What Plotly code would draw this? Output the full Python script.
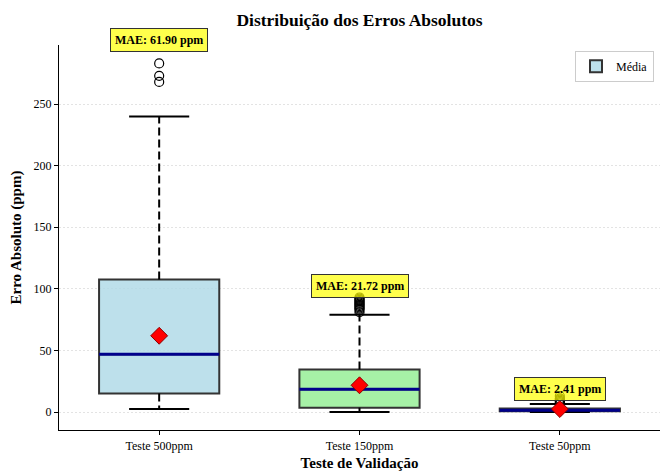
import plotly.graph_objects as go

# ---- data ----
categories = ["Teste 500ppm", "Teste 150ppm", "Teste 50ppm"]
q1_vals = [15.0, 3.5, 0.6]
median_vals = [47.0, 18.5, 1.5]
q3_vals = [107.5, 34.5, 2.8]
lower_whisker = [2.5, 0.0, 0.0]
upper_whisker = [240.0, 79.0, 6.5]
mean_vals = [61.90, 21.72, 2.41]
outliers = [
    [268.0, 273.0, 283.0],
    [81.0, 83.0, 84.0, 85.0, 86.0, 87.0, 88.0, 89.0, 90.0, 91.0, 92.0, 93.0],
    [7.0, 8.0, 9.0, 10.0, 11.0, 13.0],
]
fill_colors = ["rgba(173,216,230,0.8)", "rgba(144,238,144,0.8)", "rgba(240,128,128,0.8)"]

FONT = "Liberation Serif, Times New Roman, serif"
positions = list(range(len(categories)))
BOX_W = 0.6
CAP_HALF = 0.15
Y_RANGE = [-14.6, 298]

fig = go.Figure()

for i, p in enumerate(positions):
    fig.add_trace(go.Box(
        x=[p], q1=[q1_vals[i]], median=[median_vals[i]], q3=[q3_vals[i]],
        lowerfence=[q1_vals[i]], upperfence=[q3_vals[i]],
        width=BOX_W, whiskerwidth=0, boxpoints=False,
        fillcolor=fill_colors[i], line=dict(color="#333333", width=2),
        name="Média", showlegend=(i == 0), hoverinfo="skip",
    ))

for i, p in enumerate(positions):
    # dashed whiskers
    fig.add_trace(go.Scatter(
        x=[p, p, None, p, p],
        y=[q1_vals[i], lower_whisker[i], None, q3_vals[i], upper_whisker[i]],
        mode="lines", line=dict(color="black", width=2, dash="8px,4px"),
        showlegend=False, hoverinfo="skip",
    ))
    # caps
    fig.add_trace(go.Scatter(
        x=[p - CAP_HALF, p + CAP_HALF, None, p - CAP_HALF, p + CAP_HALF],
        y=[lower_whisker[i], lower_whisker[i], None, upper_whisker[i], upper_whisker[i]],
        mode="lines", line=dict(color="black", width=2),
        showlegend=False, hoverinfo="skip",
    ))
    # median
    fig.add_trace(go.Scatter(
        x=[p - BOX_W / 2, p + BOX_W / 2], y=[median_vals[i], median_vals[i]],
        mode="lines", line=dict(color="darkblue", width=3),
        showlegend=False, hoverinfo="skip",
    ))
    # outliers
    fig.add_trace(go.Scatter(
        x=[p] * len(outliers[i]), y=outliers[i], mode="markers",
        marker=dict(symbol="circle-open", size=9, color="black", line=dict(width=1.2)),
        showlegend=False, hoverinfo="skip",
    ))

# means
fig.add_trace(go.Scatter(
    x=positions, y=mean_vals, mode="markers",
    marker=dict(symbol="diamond", size=13, color="red", line=dict(color="darkred", width=1)),
    showlegend=False, hoverinfo="skip",
))

for i, p in enumerate(positions):
    top = max(outliers[i] + [upper_whisker[i]])
    y_val = top * 1.05 + 5
    y_paper = (y_val - Y_RANGE[0]) / (Y_RANGE[1] - Y_RANGE[0])
    fig.add_annotation(
        x=p, y=y_paper, xref="x", yref="paper", yanchor="middle",
        text=f"<b>MAE: {mean_vals[i]:.2f} ppm</b>", showarrow=False,
        font=dict(family=FONT, size=12, color="black"),
        bgcolor="rgba(255,255,0,0.7)", bordercolor="#333333", borderwidth=1, borderpad=4,
    )

fig.update_layout(
    width=662, height=471,
    margin=dict(l=59, r=2, t=45, b=41),
    paper_bgcolor="white", plot_bgcolor="white",
    font=dict(family=FONT, size=12, color="black"),
    title=dict(text="<b>Distribuição dos Erros Absolutos</b>", x=0.5, xref="paper",
               y=1 - 20 / 471, yref="container", yanchor="middle",
               font=dict(family=FONT, size=17.5, color="black")),
    legend=dict(x=0.99, y=0.985, xanchor="right", yanchor="top",
                bgcolor="white", bordercolor="#cccccc", borderwidth=1,
                font=dict(family=FONT, size=12)),
    xaxis=dict(range=[-0.5, 2.5], tickvals=positions, ticktext=categories,
               showline=True, linecolor="black", linewidth=1.2,
               ticks="outside", ticklen=4, tickcolor="black", showgrid=False, zeroline=False,
               title=dict(text="<b>Teste de Validação</b>", font=dict(family=FONT, size=15), standoff=6),
               tickfont=dict(family=FONT, size=12)),
    yaxis=dict(range=Y_RANGE, tickvals=[0, 50, 100, 150, 200, 250],
               showline=True, linecolor="black", linewidth=1.2,
               ticks="outside", ticklen=4, tickcolor="black",
               showgrid=True, gridcolor="#e3e3e3", griddash="2px,2px", gridwidth=1, zeroline=False,
               title=dict(text="<b>Erro Absoluto (ppm)</b>", font=dict(family=FONT, size=15), standoff=8),
               tickfont=dict(family=FONT, size=12)),
)

fig.write_html("out.html", config={"displayModeBar": False})

# remove the default page margin so the figure sits at the window's top-left corner
with open("out.html", "r", encoding="utf-8") as f:
    html = f.read()
html = html.replace("<body>", '<body style="margin:0;padding:0;">', 1)
with open("out.html", "w", encoding="utf-8") as f:
    f.write(html)
